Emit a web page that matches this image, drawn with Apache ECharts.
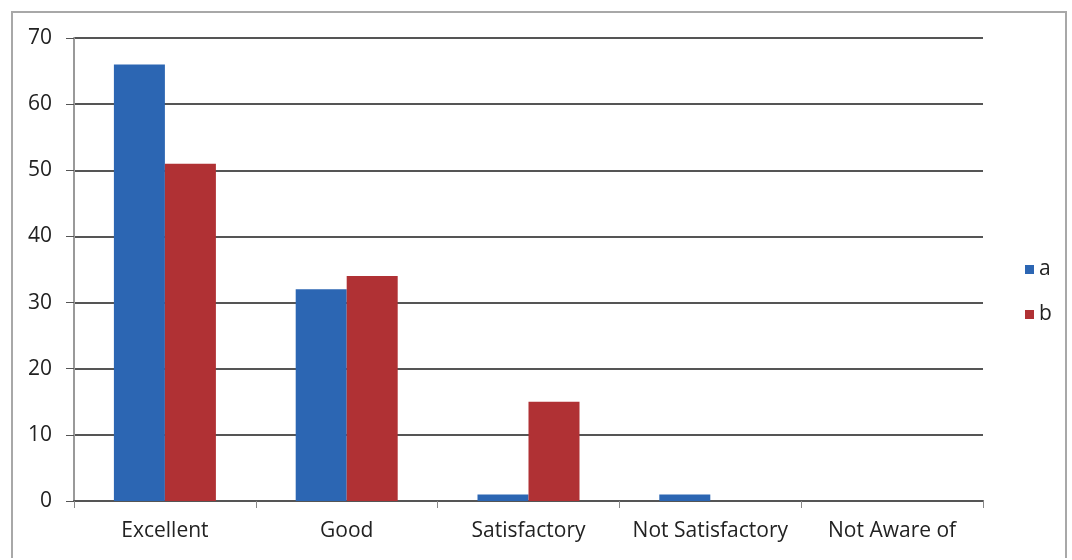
<!DOCTYPE html>
<html><head><meta charset="utf-8">
<script src="https://cdn.jsdelivr.net/npm/echarts@6/dist/echarts.min.js"></script>
<style>html,body{margin:0;padding:0;background:#fff}#c{width:1072px;height:560px}</style>
</head><body><div id="c"></div>
<script>
const categories = ["Excellent", "Good", "Satisfactory", "Not Satisfactory", "Not Aware of"];
const seriesA = [66, 32, 1, 1, 0];
const seriesB = [51, 34, 15, 0, 0];
const seriesNames = ["a", "b"];
const yTicks = [0, 10, 20, 30, 40, 50, 60, 70];

const chart = echarts.init(document.getElementById('c'), null, {renderer: 'canvas'});
chart.setOption({
  animation: false,
  backgroundColor: '#fff',
  textStyle: {fontFamily: 'Open Sans, Noto Sans, sans-serif'},
  graphic: [
    {type: 'polyline', shape: {points: [[12, 558], [12, 12], [1066, 12], [1066, 558]]},
     style: {stroke: '#a8a8a8', lineWidth: 2, fill: null}, silent: true}
  ],
  grid: {left: 74, right: 89, top: 38, bottom: 59},
  legend: {
    orient: 'vertical', left: 1020, top: 254, itemWidth: 9, itemHeight: 9, itemGap: 24,
    icon: 'rect',
    textStyle: {fontSize: 21, color: '#222', fontFamily: 'Open Sans, sans-serif'},
    data: seriesNames
  },
  xAxis: {
    type: 'category', data: categories,
    axisLine: {lineStyle: {color: '#555', width: 2}},
    axisTick: {show: true, length: 7, lineStyle: {color: '#888'}},
    axisLabel: {fontSize: 21, color: '#222', margin: 20, interval: 0}
  },
  yAxis: {
    type: 'value', min: 0, max: 70, interval: 10,
    axisLine: {show: true, lineStyle: {color: '#999', width: 2}},
    axisTick: {show: true, length: 8, lineStyle: {color: '#555'}},
    axisLabel: {fontSize: 21, color: '#222', margin: 22,
      formatter: v => yTicks.includes(v) ? String(v) : ''},
    splitLine: {lineStyle: {color: '#555', width: 2}}
  },
  series: [
    {name: seriesNames[0], type: 'bar', data: seriesA, barWidth: 51, barGap: '0%',
     itemStyle: {color: '#2c66b3'}},
    {name: seriesNames[1], type: 'bar', data: seriesB, barWidth: 51,
     itemStyle: {color: '#b03134'}}
  ]
});
</script></body></html>
